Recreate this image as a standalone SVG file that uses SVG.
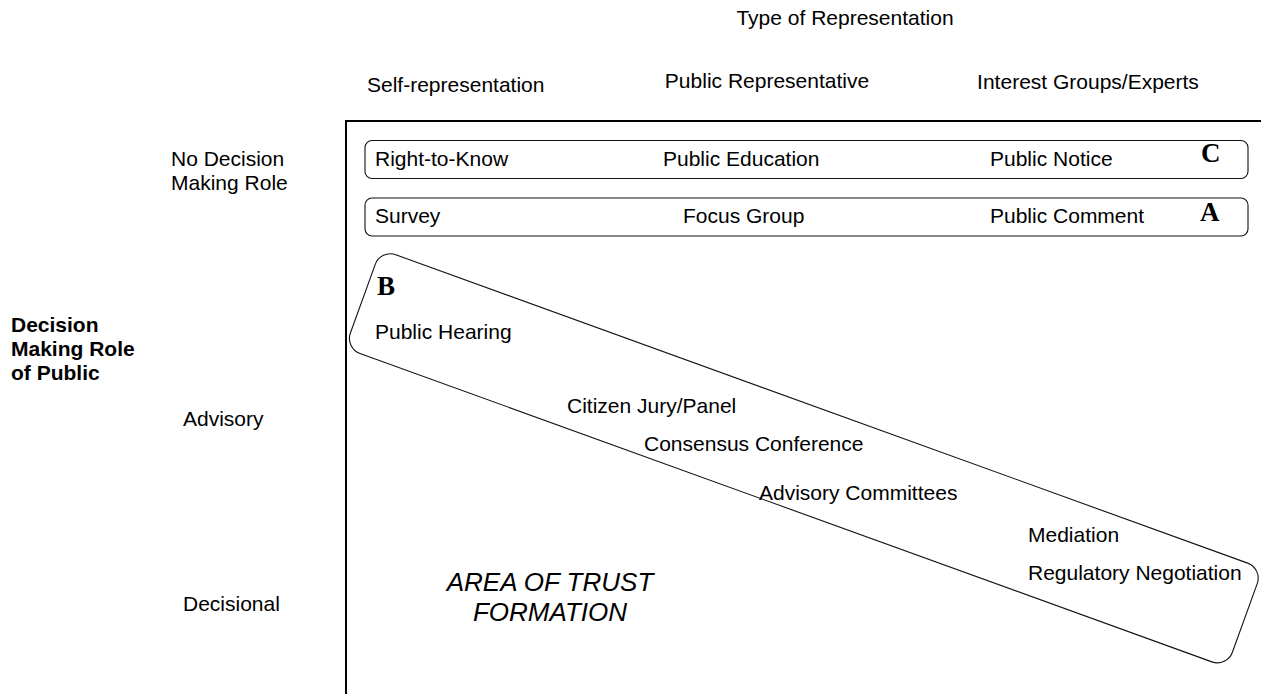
<svg xmlns="http://www.w3.org/2000/svg" width="1261" height="694" viewBox="0 0 1261 694">
<style>
.t{font-family:"Liberation Sans",Arial,sans-serif;font-size:21px;fill:#000}
.b{font-weight:bold}
.i{font-style:italic;font-size:26px}
.L{font-family:"Liberation Serif","Times New Roman",serif;font-weight:bold;font-size:27px;fill:#000}
.box{fill:none;stroke:#111;stroke-width:1.1}
.axis{fill:none;stroke:#000;stroke-width:2}
</style>
<rect width="1261" height="694" fill="#fff"/>
<g id="axes" class="connectors">
<path class="axis" d="M346,694 V121 H1261"/>
</g>
<g id="header">
<text class="t" x="845" y="25" text-anchor="middle">Type of Representation</text>
<text class="t" x="367" y="92">Self-representation</text>
<text class="t" x="767" y="88" text-anchor="middle">Public Representative</text>
<text class="t" x="1088" y="89" text-anchor="middle">Interest Groups/Experts</text>
</g>
<g id="rowlabels">
<text class="t b" x="11" y="332">Decision</text>
<text class="t b" x="11" y="356">Making Role</text>
<text class="t b" x="11" y="380">of Public</text>
<text class="t" x="171" y="166">No Decision</text>
<text class="t" x="171" y="190">Making Role</text>
<text class="t" x="183" y="426">Advisory</text>
<text class="t" x="183" y="611">Decisional</text>
</g>
<g id="nodeC">
<rect class="box" x="365" y="140.5" width="883" height="38" rx="7"/>
<text class="t" x="375" y="166">Right-to-Know</text>
<text class="t" x="663" y="166">Public Education</text>
<text class="t" x="990" y="166">Public Notice</text>
<text class="L" x="1201" y="162">C</text>
</g>
<g id="nodeA">
<rect class="box" x="365" y="198" width="883" height="38" rx="7"/>
<text class="t" x="375" y="223">Survey</text>
<text class="t" x="683" y="223">Focus Group</text>
<text class="t" x="990" y="223">Public Comment</text>
<text class="L" x="1200" y="221">A</text>
</g>
<g id="nodeB">
<rect class="box" x="0" y="0" width="938" height="105" rx="16" transform="translate(380.7,249.3) rotate(19.9)"/>
<text class="L" x="377" y="295">B</text>
<text class="t" x="375" y="339">Public Hearing</text>
<text class="t" x="567" y="413">Citizen Jury/Panel</text>
<text class="t" x="644" y="451">Consensus Conference</text>
<text class="t" x="759" y="500">Advisory Committees</text>
<text class="t" x="1028" y="542">Mediation</text>
<text class="t" x="1028" y="580">Regulatory Negotiation</text>
</g>
<g id="trust">
<text class="t i" x="550" y="591" text-anchor="middle">AREA OF TRUST</text>
<text class="t i" x="550" y="621" text-anchor="middle">FORMATION</text>
</g>
</svg>
